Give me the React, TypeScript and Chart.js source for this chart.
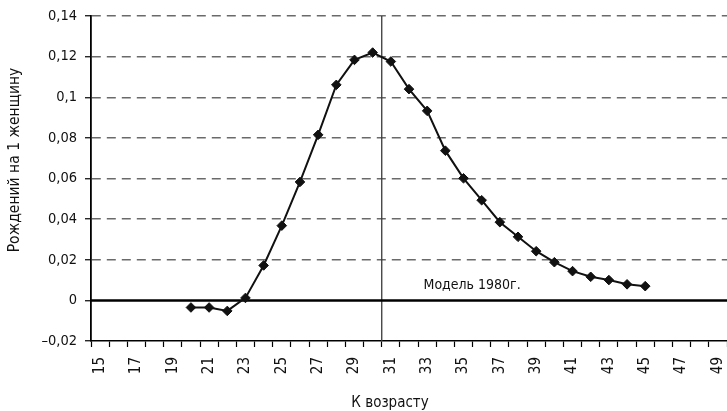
import React, { useEffect, useRef } from "react";
import { Chart, registerables } from "chart.js";

Chart.register(...registerables);

const ages: number[] = [
  15, 16, 17, 18, 19, 20, 21, 22, 23, 24, 25, 26, 27, 28, 29, 30, 31, 32,
  33, 34, 35, 36, 37, 38, 39, 40, 41, 42, 43, 44, 45, 46, 47, 48, 49,
];

const births: (number | null)[] = [
  null, null, null, null, null,
  -0.0035, -0.0035, -0.0052, 0.0012, 0.0172, 0.0368, 0.0583, 0.0815, 0.1061,
  0.1184, 0.122, 0.1176, 0.104, 0.0933, 0.0737, 0.0601, 0.0493, 0.0385,
  0.0313, 0.0242, 0.0188, 0.0144, 0.0116, 0.01, 0.0079, 0.007,
  null, null, null, null,
];

const yMin = -0.02;
const yMax = 0.14;
const yStep = 0.02;

const yTitle = "Рождений на 1 женщину";
const xTitle = "К возрасту";
const modelLabel = "Модель 1980г.";
// annotation anchors (data coordinates)
const modelLabelAt = { index: 17.8, value: 0.0054 };
const markerBoundary = [15, 16]; // vertical line between ages 30 and 31

const FONT = "'Liberation Sans Narrow', 'DejaVu Sans Condensed', 'Arial Narrow', sans-serif";

function fmt(v: number): string {
  if (Math.abs(v) < 1e-9) return "0";
  const s = Number(Math.abs(v).toFixed(2)).toString().replace(".", ",");
  return v < 0 ? "\u2013" + s : s;
}

const overlay = {
  id: "overlay",
  beforeDatasetsDraw(chart: any) {
    const { ctx, chartArea, scales } = chart;
    const x = scales.x;
    const y = scales.y;
    ctx.save();
    // vertical marker line
    const vx = (x.getPixelForValue(markerBoundary[0]) + x.getPixelForValue(markerBoundary[1])) / 2;
    ctx.strokeStyle = "#3a3a3a";
    ctx.lineWidth = 1.3;
    ctx.beginPath();
    ctx.moveTo(vx, chartArea.top);
    ctx.lineTo(vx, chartArea.bottom);
    ctx.stroke();
    // zero line
    const zy = y.getPixelForValue(0);
    ctx.strokeStyle = "#000";
    ctx.lineWidth = 2.5;
    ctx.beginPath();
    ctx.moveTo(chartArea.left, zy);
    ctx.lineTo(chartArea.right, zy);
    ctx.stroke();
    // model label
    ctx.fillStyle = "#111";
    ctx.font = "14px " + FONT;
    ctx.textAlign = "left";
    ctx.textBaseline = "alphabetic";
    ctx.fillText(modelLabel, x.getPixelForValue(modelLabelAt.index), y.getPixelForValue(modelLabelAt.value));
    ctx.restore();
  },
  afterDraw(chart: any) {
    const { ctx } = chart;
    ctx.save();
    ctx.fillStyle = "#111";
    ctx.font = "15.5px " + FONT;
    ctx.textAlign = "center";
    ctx.textBaseline = "middle";
    ctx.translate(15, 160);
    ctx.rotate(-Math.PI / 2);
    ctx.fillText(yTitle, 0, 0);
    ctx.restore();
    ctx.save();
    ctx.fillStyle = "#111";
    ctx.font = "15px " + FONT;
    ctx.textAlign = "center";
    ctx.textBaseline = "alphabetic";
    ctx.fillText(xTitle, 390, 407);
    ctx.restore();
  },
};

export default function App() {
  const ref = useRef<HTMLCanvasElement | null>(null);
  useEffect(() => {
    document.body.style.margin = "0";
    const canvas = ref.current;
    if (!canvas) return;
    const chart = new Chart(canvas, {
      type: "line",
      data: {
        labels: ages.map(String),
        datasets: [
          {
            data: births,
            borderColor: "#111",
            borderWidth: 2,
            backgroundColor: "#111",
            pointStyle: "rectRot",
            pointRadius: 4.8,
            pointBorderWidth: 1,
            pointBorderColor: "#111",
            pointBackgroundColor: "#111",
            tension: 0,
            spanGaps: false,
          },
        ],
      },
      options: {
        animation: false,
        responsive: false,
        maintainAspectRatio: false,
        layout: { autoPadding: false, padding: { top: 16, right: 0, bottom: 0, left: 0 } },
        plugins: { legend: { display: false }, tooltip: { enabled: false } },
        scales: {
          x: {
            type: "category",
            offset: true,
            afterFit: (s: any) => { s.height = 70; s.paddingRight = 0; s.paddingLeft = 0; },
            grid: {
              display: true,
              offset: true,
              drawOnChartArea: false,
              drawTicks: true,
              tickLength: 6,
              tickColor: "#000",
              tickWidth: 1.2,
              color: "#000",
            },
            border: { display: true, color: "#000", width: 1.5 },
            ticks: {
              autoSkip: false,
              minRotation: 90,
              maxRotation: 90,
              padding: 10,
              color: "#111",
              font: { family: FONT, size: 15 },
              callback: (_v: any, i: number) => (i % 2 === 0 ? String(ages[i]) : ""),
            },
          },
          y: {
            min: yMin,
            max: yMax,
            afterFit: (s: any) => { s.width = 91; s.paddingTop = 0; s.paddingBottom = 0; },
            grid: {
              color: (c: any) => (c.tick && c.tick.value > 1e-6 ? "#6a6a6a" : "rgba(0,0,0,0)"),
              lineWidth: 1.5,
              tickLength: 6,
              tickColor: "#000",
              tickWidth: 1.2,
              tickBorderDash: [],
            },
            border: { display: true, color: "#000", width: 1.8, dash: [9, 6] },
            ticks: {
              stepSize: yStep,
              padding: 8,
              color: "#111",
              font: { family: FONT, size: 14.5 },
              callback: (v: any) => fmt(Number(v)),
            },
          },
        },
      },
      plugins: [overlay],
    });
    return () => chart.destroy();
  }, []);
  return (
    <div style={{ width: 727, height: 411, position: "relative", background: "#fff" }}>
      <canvas ref={ref} width={727} height={411} style={{ display: "block" }} />
    </div>
  );
}
